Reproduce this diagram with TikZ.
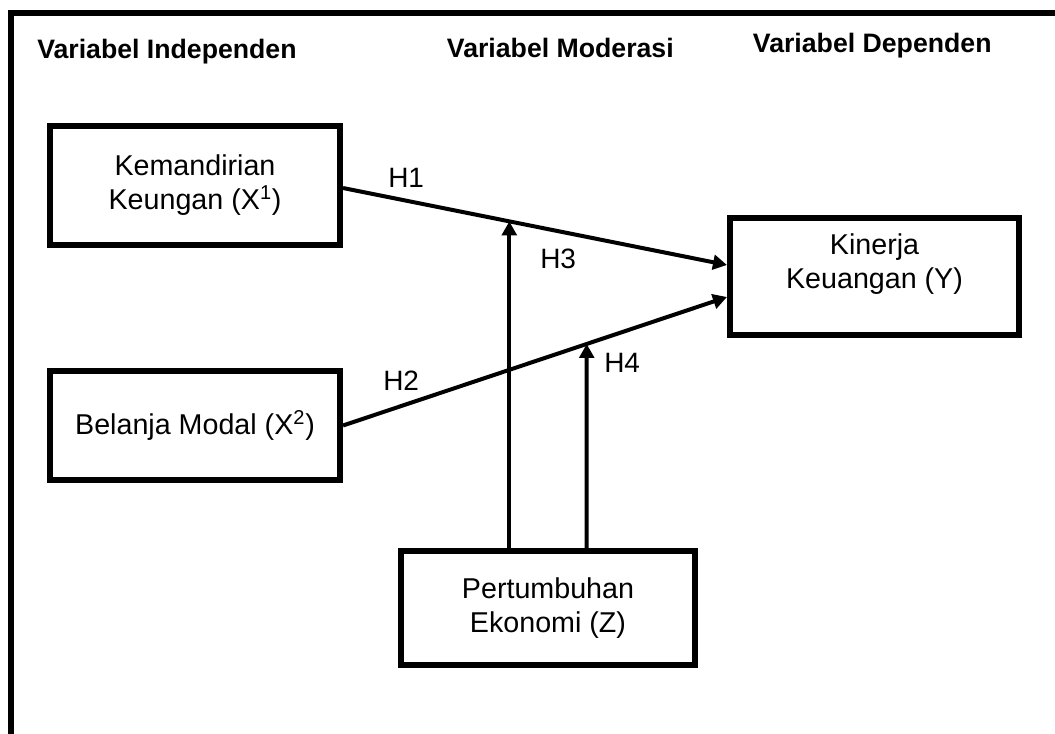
\documentclass[tikz,border=0pt]{standalone}
\usepackage{fontspec}
\setmainfont{Liberation Sans}
\usetikzlibrary{arrows.meta,calc}
\tikzset{
  box/.style={draw, line width=4.5pt, rectangle, inner sep=0pt, align=center,
    font=\fontsize{21.5pt}{25.5pt}\selectfont},
  txt/.style={inner sep=0pt, align=center, font=\fontsize{21.5pt}{25.5pt}\selectfont},
  arr/.style={line width=3pt, -{Triangle[length=10.5pt,width=11pt]}},
  head/.style={font=\fontsize{20pt}{24pt}\selectfont\bfseries, anchor=base west, inner sep=0pt},
  hl/.style={font=\fontsize{21pt}{24pt}\selectfont, anchor=base west, inner sep=0pt},
  frame/.style={line width=4.5pt}
}
\begin{document}
\begin{tikzpicture}[x=0.75pt,y=-0.75pt]
\useasboundingbox (0,0) rectangle (1055,733);
% frame
\draw[frame] (1060,13) -- (10.5,13) -- (10.5,740);
% headers
\node[head] (hi) at (37,58) {Variabel Independen};
\node[head] (hm) at (446.7,57.3) {Variabel Moderasi};
\node[head] (hd) at (752.7,52.3) {Variabel Dependen};
% boxes
\node[box, minimum width=217.5pt, minimum height=89.25pt] (k) at (195,185.5)
  {Kemandirian\\Keungan (X\textsuperscript{1})};
\node[box, minimum width=217.5pt, minimum height=82.2pt] (b) at (195,425.5)
  {Belanja Modal (X\textsuperscript{2})};
\node[box, minimum width=216.75pt, minimum height=87.75pt] (y) at (874.5,276.5) {};
\node[txt] (yt) at (874.5,264) {Kinerja\\Keuangan (Y)};
\node[box, minimum width=220.5pt, minimum height=85.5pt] (z) at (548,608)
  {Pertumbuhan\\Ekonomi (Z)};
% main paths
\coordinate (h1s) at ($(k.east)+(0,2.5)$);
\coordinate (h1e) at ($(y.west)+(0,-11.5)$);
\coordinate (h2s) at (b.east);
\coordinate (h2e) at ($(y.west)+(0,20.5)$);
\draw[arr] (h1s) -- (h1e);
\draw[arr] (h2s) -- (h2e);
% moderating paths
\coordinate (v1s) at ($(z.north)+(-38.7,0)$);
\coordinate (v1u) at ($(v1s)+(0,-100)$);
\coordinate (v2s) at ($(z.north)+(38.7,0)$);
\coordinate (v2u) at ($(v2s)+(0,-100)$);
\coordinate (m1) at (intersection of h1s--h1e and v1s--v1u);
\coordinate (m2) at (intersection of h2s--h2e and v2s--v2u);
\draw[arr] (v1s) -- (m1);
\draw[arr] (v2s) -- (m2);
% labels
\node[hl] (l1) at (388,187) {H1};
\node[hl] (l3) at (540,268) {H3};
\node[hl] (l2) at (383,390) {H2};
\node[hl] (l4) at (604,372) {H4};
\end{tikzpicture}
\end{document}
